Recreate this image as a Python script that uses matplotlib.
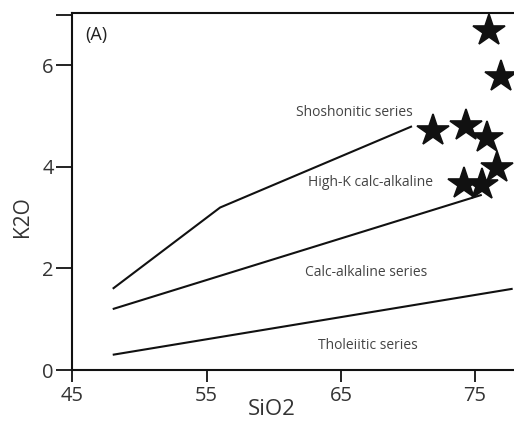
import matplotlib
matplotlib.use("Agg")
import matplotlib.pyplot as plt

plt.rcParams['font.family'] = ['Open Sans', 'DejaVu Sans']

# series boundary lines (SiO2, K2O)
shosh_x = [48, 56, 70.3]
shosh_y = [1.6, 3.2, 4.8]
highk_x = [48, 75.5]
highk_y = [1.2, 3.45]
thol_x = [48, 77.8]
thol_y = [0.3, 1.6]

# samples
sio2 = [76.0, 76.9, 71.9, 74.3, 75.9, 76.6, 74.2, 75.5]
k2o = [6.68, 5.78, 4.70, 4.81, 4.57, 3.98, 3.67, 3.64]

# field names
field_names = ["Shoshonitic series", "High-K calc-alkaline",
               "Calc-alkaline series", "Tholeiitic series"]
field_x = [66.0, 67.2, 66.9, 67.0]
field_y = [5.07, 3.69, 1.92, 0.49]

fig = plt.figure(figsize=(5.14, 4.28), dpi=100)
ax = fig.add_axes([0.141, 0.1355, 0.859, 0.834])

for xs, ys in [(shosh_x, shosh_y), (highk_x, highk_y), (thol_x, thol_y)]:
    ax.plot(xs, ys, color='#111111', lw=1.5, solid_capstyle='butt')

ax.plot(sio2, k2o, ls='none', marker='*', ms=24, color='#111111',
        markeredgewidth=1.2, markeredgecolor='#111111', zorder=3)

for name, x, y in zip(field_names, field_x, field_y):
    ax.text(x, y, name, ha='center', va='center', fontsize=10, color='#444444')

ax.text(46.8, 6.6, "(A)", ha='center', va='center', fontsize=13, color='#222222')

ax.set_xlim(45, 77.9)
ax.set_ylim(0, 7.03)
ax.set_xticks([45, 55, 65, 75])
ax.set_yticks([0, 2, 4, 6, 7])
ax.set_yticklabels(['0', '2', '4', '6', ''])
ax.spines['right'].set_visible(False)
for s in ['left', 'top', 'bottom']:
    ax.spines[s].set_linewidth(1.5)
    ax.spines[s].set_color('#111111')
ax.tick_params(axis='y', direction='out', length=11.5, width=1.3, pad=2,
               labelsize=14.5, colors='#111111', labelcolor='#333333')
ax.tick_params(axis='x', direction='out', length=8.5, width=1.3, pad=3,
               labelsize=14.5, colors='#111111', labelcolor='#333333')

ax.set_xlabel("SiO2", fontsize=16, color='#333333')
ax.set_ylabel("K2O", fontsize=15, color='#333333')
ax.xaxis.set_label_coords(0.452, -0.08)
ax.yaxis.set_label_coords(-0.09, 0.43)

fig.savefig("out.png", dpi=100)
